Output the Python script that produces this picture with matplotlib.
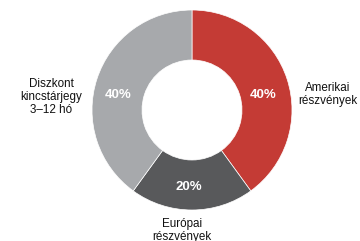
import matplotlib
matplotlib.use("Agg")
import matplotlib.pyplot as plt

categories = ["Amerikai\nrészvények", "Európai\nrészvények", "Diszkont\nkincstárjegy\n3–12 hó"]
values = [40, 20, 40]
colors = ["#C43B35", "#58595B", "#A7A9AC"]

plt.rcParams['font.family'] = ['Liberation Sans', 'DejaVu Sans']

fig = plt.figure(figsize=(3.6, 2.41), dpi=100)
ax = fig.add_axes([0, 0, 1, 1])
wedges, texts, autotexts = ax.pie(
    values, colors=colors, startangle=90, counterclock=False, radius=1.0,
    wedgeprops=dict(width=0.5, edgecolor="white", linewidth=0.5),
    autopct=lambda p: f"{p:.0f}%", pctdistance=0.75,
    textprops=dict(color="white", fontsize=9.5, fontweight="bold"))
pos = [(0.71, 0.15), (-0.03, -0.77), (-0.74, 0.15)]
for t, p in zip(autotexts, pos):
    t.set_position(p)

label_pos = [(1.36, 0.155), (-0.10, -1.205), (-1.41, 0.13)]
for name, p in zip(categories, label_pos):
    ax.text(p[0], p[1], name, ha="center", va="center", fontsize=8.4,
            color="#111111", linespacing=1.1)

ax.set_xlim(-1.92, 1.68)
ax.set_ylim(-1.31, 1.10)
ax.set_aspect("equal")
ax.axis("off")
fig.savefig("out.png", dpi=100)
